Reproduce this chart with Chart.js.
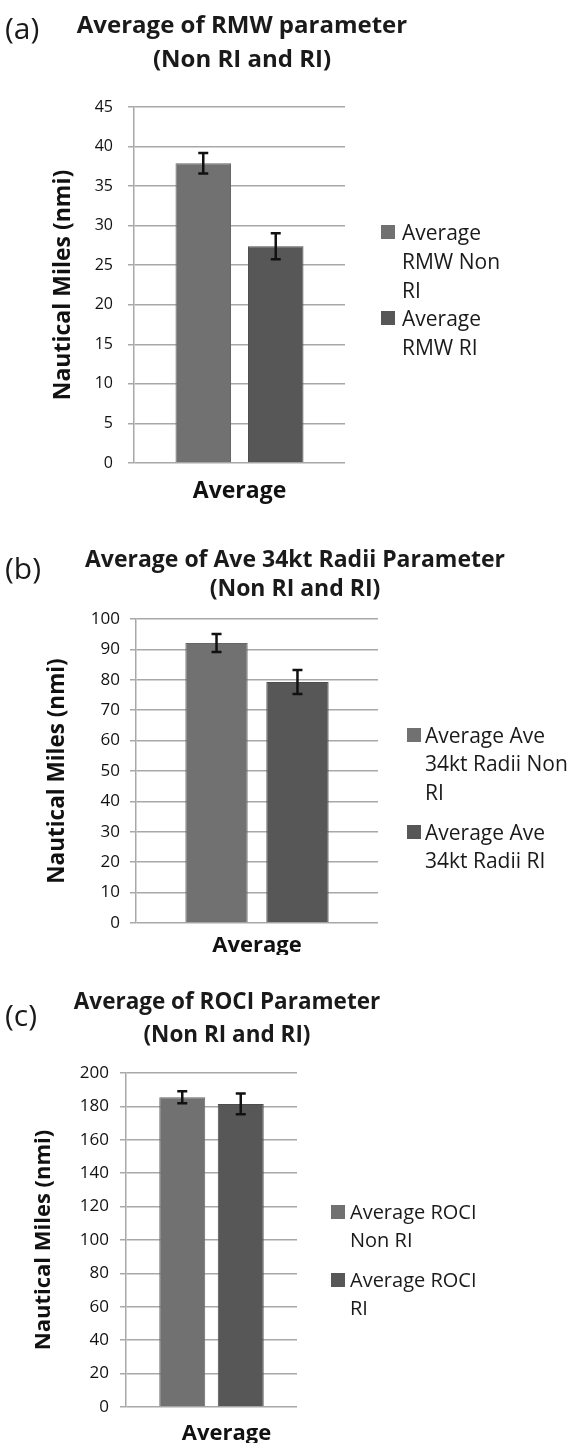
<!DOCTYPE html>
<html>
<head>
<meta charset="utf-8">
<script src="https://cdn.jsdelivr.net/npm/chart.js@4.4.1/dist/chart.umd.min.js"></script>
<style>
  body { margin: 0; background: #fff; font-family: 'Open Sans', sans-serif; color: #1a1a1a; }
  #page { position: relative; width: 570px; height: 1445px; overflow: hidden; }
  canvas { position: absolute; left: 0; }
  .tag { position: absolute; left: 5px; font-size: 30px; line-height: 34px; }
  .title { position: absolute; font-weight: bold; text-align: center; white-space: nowrap; transform: translateX(-50%); }
  .leg { position: absolute; white-space: nowrap; }
  .leg .box { position: absolute; width: 14px; height: 14px; }
</style>
</head>
<body>
<div id="page">
  <canvas id="chartA" width="570" height="520" style="top:0px"></canvas>
  <canvas id="chartB" width="570" height="440" style="top:520px"></canvas>
  <canvas id="chartC" width="570" height="485" style="top:960px"></canvas>

  <div class="tag" style="top:11px">(a)</div>
  <div class="tag" style="top:551px">(b)</div>
  <div class="tag" style="top:998px">(c)</div>

  <div class="title" style="left:242px; top:7px; font-size:24px; line-height:33.5px">Average of RMW parameter<br>(Non RI and RI)</div>
  <div class="title" style="left:295px; top:544px; font-size:23px; line-height:29px">Average of Ave 34kt Radii Parameter<br>(Non RI and RI)</div>
  <div class="title" style="left:227px; top:984px; font-size:22.5px; line-height:33px">Average of ROCI Parameter<br>(Non RI and RI)</div>
</div>

<script>
// data
const categories = ["Average"];
const barColors = ["#717171", "#575757"];
const barEdges = ["#666666", "#4d4d4d"];

// (a) RMW
const rmwLegend = [["Average", "RMW Non", "RI"], ["Average", "RMW RI"]];
const rmwNonRI = [37.9];
const rmwRI = [27.4];
const rmwErrNonRI = [1.3];
const rmwErrRI = [1.65];
const rmwAxis = [0, 45, 5];

// (b) Ave 34kt radii
const radiiLegend = [["Average Ave", "34kt Radii Non", "RI"], ["Average Ave", "34kt Radii RI"]];
const radiiNonRI = [92.1];
const radiiRI = [79.3];
const radiiErrNonRI = [2.95];
const radiiErrRI = [3.95];
const radiiAxis = [0, 100, 10];

// (c) ROCI
const rociLegend = [["Average ROCI", "Non RI"], ["Average ROCI", "RI"]];
const rociNonRI = [185.5];
const rociRI = [181.5];
const rociErrNonRI = [3.6];
const rociErrRI = [6.2];
const rociAxis = [0, 200, 20];

const errorBars = {
  id: "errorBars",
  afterDatasetsDraw(chart) {
    const ctx = chart.ctx;
    const y = chart.scales.y;
    chart.data.datasets.forEach((ds, i) => {
      chart.getDatasetMeta(i).data.forEach((bar, j) => {
        const top = y.getPixelForValue(ds.data[j] + ds.errors[j]);
        const bot = y.getPixelForValue(ds.data[j] - ds.errors[j]);
        ctx.save();
        ctx.strokeStyle = "#111";
        ctx.lineWidth = 2.5;
        ctx.beginPath();
        ctx.moveTo(bar.x, top); ctx.lineTo(bar.x, bot);
        ctx.moveTo(bar.x - 5, top); ctx.lineTo(bar.x + 5, top);
        ctx.moveTo(bar.x - 5, bot); ctx.lineTo(bar.x + 5, bot);
        ctx.stroke();
        ctx.restore();
      });
    });
  }
};

Chart.defaults.font.family = "'Open Sans', sans-serif";
Chart.defaults.color = "#1a1a1a";

function panel(id, p) {
  return new Chart(document.getElementById(id), {
    type: "bar",
    data: {
      labels: categories,
      datasets: [0, 1].map(k => ({
        label: p.legend[k].join(" "),
        data: p.values[k],
        errors: p.errors[k],
        backgroundColor: barColors[k],
        borderColor: barEdges[k],
        borderWidth: 1
      }))
    },
    options: {
      responsive: false,
      animation: false,
      devicePixelRatio: 1,
      layout: { padding: p.pad },
      plugins: { legend: { display: false }, tooltip: { enabled: false } },
      datasets: { bar: { categoryPercentage: p.cat, barPercentage: p.bar } },
      scales: {
        x: {
          grid: { display: false, drawTicks: false },
          border: { display: false },
          ticks: { font: { size: p.xFont, weight: "bold" }, color: "#111", padding: p.xPad, labelOffset: p.xOffset || 0 },
          afterFit: s => { s.height = p.xH; }
        },
        y: {
          min: p.axis[0],
          max: p.axis[1],
          ticks: { stepSize: p.axis[2], font: { size: p.tickFont }, color: "#111", padding: p.tickPad },
          grid: { color: "#a8a8a8", lineWidth: 1.5, tickLength: 6 },
          border: { color: "#a8a8a8", width: 1.5 },
          title: { display: true, text: "Nautical Miles (nmi)", font: { size: p.yTitleFont, weight: "bold" }, color: "#111", padding: 0 },
          afterFit: s => { s.width = p.yW; }
        }
      }
    },
    plugins: [errorBars]
  });
}

function legend(lines, p) {
  const page = document.getElementById("page");
  lines.forEach((item, k) => {
    const d = document.createElement("div");
    d.className = "leg";
    d.style.left = p.textX + "px";
    d.style.top = (p.firstY[k] - p.lh / 2) + "px";
    d.style.fontSize = p.size + "px";
    d.style.lineHeight = p.lh + "px";
    d.innerHTML = item.join("<br>");
    const b = document.createElement("span");
    b.className = "box";
    b.style.background = barColors[k];
    b.style.left = (p.boxX - p.textX) + "px";
    b.style.top = (p.lh / 2 - 7) + "px";
    d.appendChild(b);
    page.appendChild(d);
  });
}

panel("chartA", {
  legend: rmwLegend, values: [rmwNonRI, rmwRI], errors: [rmwErrNonRI, rmwErrRI], axis: rmwAxis,
  pad: { left: 50, right: 225, top: 107, bottom: 7 }, yW: 84, tickPad: 15, tickFont: 16,
  yTitleFont: 23, xFont: 23, xPad: 15, xH: 50, cat: 0.687, bar: 0.766
});
panel("chartB", {
  legend: radiiLegend, values: [radiiNonRI, radiiRI], errors: [radiiErrNonRI, radiiErrRI], axis: radiiAxis,
  pad: { left: 44, right: 192, top: 99, bottom: 5 }, yW: 92, tickPad: 10, tickFont: 17,
  yTitleFont: 22.5, xFont: 22, xPad: 10, xH: 32, cat: 0.669, bar: 0.77
});
panel("chartC", {
  legend: rociLegend, values: [rociNonRI, rociRI], errors: [rociErrNonRI, rociErrRI], axis: rociAxis,
  pad: { left: 31, right: 273, top: 113, bottom: 2 }, yW: 95, tickPad: 11, tickFont: 17,
  yTitleFont: 22, xFont: 22, xPad: 14, xH: 36, xOffset: 15, cat: 0.684, bar: 0.786
});

legend(rmwLegend, { textX: 402, boxX: 381, firstY: [232, 318], size: 21, lh: 29 });
legend(radiiLegend, { textX: 425, boxX: 407, firstY: [735, 832], size: 21, lh: 28.5 });
legend(rociLegend, { textX: 350, boxX: 331, firstY: [1212, 1280], size: 20, lh: 27.5 });
</script>
</body>
</html>
